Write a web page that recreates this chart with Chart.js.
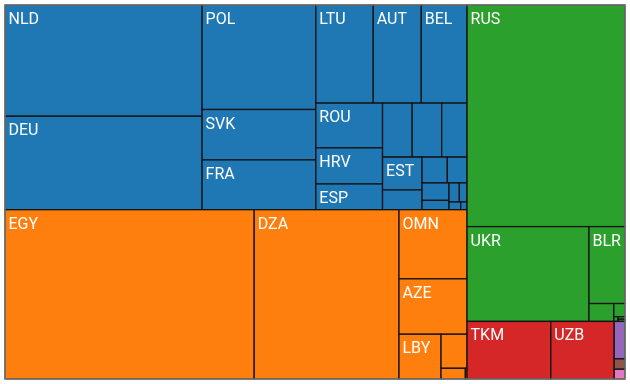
<!DOCTYPE html>
<html>
<head>
<meta charset="utf-8">
<script src="https://cdn.jsdelivr.net/npm/chart.js@4.4.1/dist/chart.umd.min.js"></script>
<style>
  html, body { margin: 0; padding: 0; background: #fff; }
</style>
</head>
<body>
<canvas id="treemap" width="630" height="384"></canvas>
<script>
// groups (top level of the treemap) and the countries inside them
const groups = ['EU', 'MENA', 'CIS', 'Central Asia', 'KAZ', 'IRN', 'TUR'];
const countries = [
  'NLD', 'DEU', 'POL', 'SVK', 'FRA', 'LTU', 'AUT', 'BEL', 'ROU', 'HRV', 'ESP',
  'CZE', 'HUN', 'ITA', 'EST', 'LVA', 'SVN', 'BGR', 'GRC', 'FIN', 'DNK', 'SWE', 'IRL', 'LUX',
  'EGY', 'DZA', 'OMN', 'AZE', 'LBY', 'QAT', 'TUN', 'NOR',
  'RUS', 'UKR', 'BLR', 'MDA', 'GEO', 'ARM', 'KGZ', 'TJK',
  'TKM', 'UZB',
  'KAZ', 'IRN', 'TUR'
];
const countryGroup = [
  'EU', 'EU', 'EU', 'EU', 'EU', 'EU', 'EU', 'EU', 'EU', 'EU', 'EU',
  'EU', 'EU', 'EU', 'EU', 'EU', 'EU', 'EU', 'EU', 'EU', 'EU', 'EU', 'EU', 'EU',
  'MENA', 'MENA', 'MENA', 'MENA', 'MENA', 'MENA', 'MENA', 'MENA',
  'CIS', 'CIS', 'CIS', 'CIS', 'CIS', 'CIS', 'CIS', 'CIS',
  'Central Asia', 'Central Asia',
  'KAZ', 'IRN', 'TUR'
];
const values = [
  21867, 18380, 11859, 5719, 5651, 5615, 4704, 4479, 2975, 2401, 1714,
  1598, 1588, 1366, 1291, 780, 653, 508, 470, 251, 196, 146, 90, 49,
  42081, 24454, 4692, 3760, 1877, 884, 260, 18,
  34918, 11529, 2765, 443, 147, 20, 17, 15,
  4813, 3640,
  403, 112, 105
];

const palette = ['#1f77b4', '#ff7f0e', '#2ca02c', '#d62728', '#9467bd', '#8c564b', '#e377c2'];
const PHI = (1 + Math.sqrt(5)) / 2;

// d3-style squarify, lays nodes out inside the given rectangle
function squarify(nodes, x0, y0, x1, y1) {
  let value = nodes.reduce((s, d) => s + d.value, 0);
  let i0 = 0, i1 = 0;
  const n = nodes.length;
  while (i0 < n) {
    const dx = x1 - x0, dy = y1 - y0;
    let sum;
    do sum = nodes[i1++].value; while (!sum && i1 < n);
    let minV = sum, maxV = sum;
    const alpha = Math.max(dy / dx, dx / dy) / (value * PHI);
    let beta = sum * sum * alpha;
    let minRatio = Math.max(maxV / beta, beta / minV);
    for (; i1 < n; ++i1) {
      const v = nodes[i1].value;
      sum += v;
      if (v < minV) minV = v;
      if (v > maxV) maxV = v;
      beta = sum * sum * alpha;
      const r = Math.max(maxV / beta, beta / minV);
      if (r > minRatio) { sum -= v; break; }
      minRatio = r;
    }
    const row = nodes.slice(i0, i1);
    if (dx < dy) {
      const ny = y0 + dy * sum / value;
      let x = x0;
      row.forEach(d => { d.x0 = x; x += (x1 - x0) * d.value / sum; d.x1 = x; d.y0 = y0; d.y1 = ny; });
      y0 = ny;
    } else {
      const nx = x0 + dx * sum / value;
      let y = y0;
      row.forEach(d => { d.y0 = y; y += (y1 - y0) * d.value / sum; d.y1 = y; d.x0 = x0; d.x1 = nx; });
      x0 = nx;
    }
    value -= sum;
    i0 = i1;
  }
}

function buildTree() {
  const tops = groups.map((g, gi) => {
    const children = countries
      .map((c, i) => ({ name: c, value: values[i], group: countryGroup[i] }))
      .filter(d => d.group === g)
      .sort((a, b) => b.value - a.value);
    return { name: g, color: palette[gi], children, value: children.reduce((s, d) => s + d.value, 0) };
  });
  return tops.sort((a, b) => b.value - a.value);
}

const treemapPlugin = {
  id: 'treemap',
  beforeDatasetsDraw(chart) {
    const { ctx, scales: { x, y } } = chart;
    const tree = buildTree();
    squarify(tree, x.min, y.min, x.max, y.max);
    tree.forEach(g => squarify(g.children, g.x0, g.y0, g.x1, g.y1));

    ctx.save();
    ctx.font = '16px Roboto';
    ctx.textBaseline = 'alphabetic';
    tree.forEach(g => {
      g.children.forEach(d => {
        const left = x.getPixelForValue(d.x0), right = x.getPixelForValue(d.x1);
        const top = y.getPixelForValue(d.y0), bottom = y.getPixelForValue(d.y1);
        ctx.fillStyle = g.color;
        ctx.fillRect(left, top, right - left, bottom - top);
        ctx.strokeStyle = '#141414';
        ctx.lineWidth = 1.3;
        ctx.strokeRect(left, top, right - left, bottom - top);
        const tw = ctx.measureText(d.name).width;
        if (tw + 7 <= right - left && bottom - top >= 22) {
          ctx.fillStyle = '#fff';
          ctx.fillText(d.name, left + 3.5, top + 19);
        }
      });
    });
    // outer frame
    ctx.strokeStyle = '#888';
    ctx.lineWidth = 1.2;
    const a = chart.chartArea;
    ctx.strokeRect(a.left, a.top, a.right - a.left, a.bottom - a.top);
    ctx.restore();
  }
};

new Chart(document.getElementById('treemap'), {
  type: 'scatter',
  data: { datasets: [] },
  options: {
    responsive: false,
    devicePixelRatio: 1,
    animation: false,
    layout: { padding: { left: 5, right: 5, top: 5, bottom: 5 } },
    scales: {
      x: { type: 'linear', min: 0, max: 620, display: false },
      y: { type: 'linear', min: 0, max: 374, reverse: true, display: false }
    },
    plugins: { legend: { display: false }, tooltip: { enabled: false } }
  },
  plugins: [treemapPlugin]
});
</script>
</body>
</html>
